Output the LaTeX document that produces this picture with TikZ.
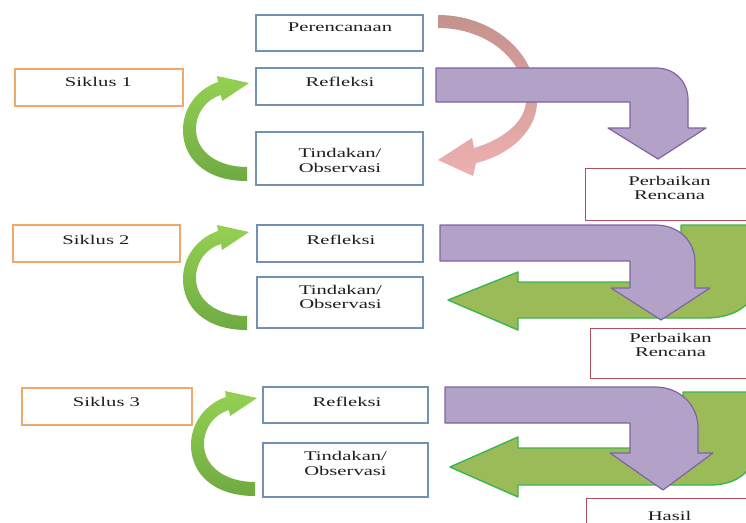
\documentclass[tikz,border=0pt]{standalone}
\usepackage{fontspec}
\setmainfont{Liberation Serif}
\usepackage{graphicx}
\definecolor{boxblue}{HTML}{7391B5}
\definecolor{boxorange}{HTML}{EFA96B}
\definecolor{boxred}{HTML}{B0505A}
\definecolor{purfill}{HTML}{B3A2C7}
\definecolor{purdraw}{HTML}{8064A2}
\definecolor{gfill}{HTML}{9BBB59}
\definecolor{gdraw}{HTML}{3CB550}
\definecolor{gtop}{HTML}{94D152}
\definecolor{gbot}{HTML}{6FAA42}
\definecolor{ptop}{HTML}{C4928C}
\definecolor{pbot}{HTML}{EDB0B0}
\definecolor{txtcol}{HTML}{1E1E1E}
\newcommand\sx[1]{\scalebox{1.55}[1]{#1}}
\begin{document}
\begin{tikzpicture}[x=1pt,y=-1pt,
  mainbox/.style={draw=boxblue,line width=1.1pt,rectangle,inner sep=0pt},
  sikbox/.style={draw=boxorange,line width=1.1pt,rectangle,inner sep=0pt},
  perbox/.style={draw=boxred,line width=0.9pt,rectangle,inner sep=0pt},
  txt/.style={font=\fontsize{13.3}{14.5}\selectfont,text=txtcol,inner sep=0pt,align=center},
  purarrow/.style={fill=purfill,draw=purdraw,line width=1.2pt,line join=round},
  garrow/.style={fill=gfill,draw=gdraw,line width=1.4pt,line join=round},
  gcurvestyle/.style={top color=gtop,bottom color=gbot,draw=none},
  pcurvestyle/.style={top color=ptop,bottom color=pbot,draw=none},
  gcurve/.pic={
    \path[gcurvestyle] (247,181) .. controls (205,181) and (182,158) .. (183,128)
      .. controls (184,105) and (200,88) .. (218,82) -- (217,76) -- (249,83)
      -- (222,101) -- (221,95) .. controls (207,99) and (196,112) .. (196,129)
      .. controls (196,152) and (218,167) .. (247,167) -- cycle;
  }]
\useasboundingbox (0,0) rectangle (746,522);
\clip (0,0) rectangle (746,522);
\fill[white] (0,0) rectangle (746,522);

% boxes
\node[sikbox,minimum width=168pt,minimum height=37pt] (s1) at (99,87.5) {};
\node[mainbox,minimum width=167pt,minimum height=36pt] (pr) at (339.5,33) {};
\node[mainbox,minimum width=167pt,minimum height=37pt] (r1) at (339.5,86.5) {};
\node[mainbox,minimum width=167pt,minimum height=53pt] (o1) at (339.5,158.5) {};
\node[perbox,minimum width=167pt,minimum height=52pt] (p1) at (668.5,194) {};
\node[sikbox,minimum width=167pt,minimum height=37pt] (s2) at (96.5,243.5) {};
\node[mainbox,minimum width=166pt,minimum height=37pt] (r2) at (340,243.5) {};
\node[mainbox,minimum width=166pt,minimum height=51pt] (o2) at (340,302.5) {};
\node[perbox,minimum width=162pt,minimum height=50pt] (p2) at (671,353) {};
\node[sikbox,minimum width=170pt,minimum height=37pt] (s3) at (107,406.5) {};
\node[mainbox,minimum width=165pt,minimum height=36pt] (r3) at (345.5,405) {};
\node[mainbox,minimum width=165pt,minimum height=54pt] (o3) at (345.5,470) {};
\node[perbox,minimum width=166pt,minimum height=52pt] (h) at (669,524) {};

% texts
\node[txt] (ts1) at (98.5,82) {\sx{Siklus 1}};
\node[txt] (tpr) at (340,27.5) {\sx{Perencanaan}};
\node[txt] (tr1) at (340,82) {\sx{Refleksi}};
\node[txt] (to1) at (340,160.5) {\sx{Tindakan/}\\\sx{Observasi}};
\node[txt] (tp1) at (669.5,188) {\sx{Perbaikan}\\\sx{Rencana}};
\node[txt] (ts2) at (96,240) {\sx{Siklus 2}};
\node[txt] (tr2) at (341,240) {\sx{Refleksi}};
\node[txt] (to2) at (340.5,297) {\sx{Tindakan/}\\\sx{Observasi}};
\node[txt] (tp2) at (670.5,345) {\sx{Perbaikan}\\\sx{Rencana}};
\node[txt] (ts3) at (106.5,402) {\sx{Siklus 3}};
\node[txt] (tr3) at (347,402) {\sx{Refleksi}};
\node[txt] (to3) at (345.5,463.5) {\sx{Tindakan/}\\\sx{Observasi}};
\node[txt] (th) at (669.5,516) {\sx{Hasil}};

% green curved arrows
\pic (gc1) at (0,0) {gcurve};
\pic (gc2) at (0,149) {gcurve};
\pic (gc3) at (8,315) {gcurve};

% pink curved arrow
\path[pcurvestyle] (438,15) .. controls (490,15) and (536,50) .. (537,100)
  .. controls (538,130) and (510,155) .. (476,163) -- (473,176) -- (438,160)
  -- (472,138) -- (474,148) .. controls (502,140) and (526,122) .. (526,100)
  .. controls (525,58) and (485,28) .. (438,28) -- cycle;

% green U arrows
\draw[garrow] (681,225) -- (755,225) -- (755,282) .. controls (755,305) and (735,318) .. (705,318)
  -- (518,318) -- (518,330) -- (448,300) -- (518,272) -- (518,282) -- (681,282) -- cycle;
\draw[garrow] (683,392) -- (755,392) -- (755,448) .. controls (755,470) and (738,485) .. (710,485)
  -- (518,485) -- (518,497) -- (450,467) -- (518,437) -- (518,448) -- (683,448) -- cycle;

% purple bent arrows
\draw[purarrow] (436,68) -- (656,68) .. controls (675,68) and (688,82) .. (688,100)
  -- (688,128) -- (706,128) -- (658,159) -- (608,128) -- (630,128) -- (630,102) -- (436,102) -- cycle;
\draw[purarrow] (440,225) -- (655,225) .. controls (678,225) and (695,240) .. (695,263)
  -- (695,288) -- (710,288) -- (661,320) -- (611,288) -- (630,288) -- (630,261) -- (440,261) -- cycle;
\draw[purarrow] (445,387) -- (655,387) .. controls (680,387) and (698,405) .. (698,428)
  -- (698,453) -- (713,453) -- (663,490) -- (610,453) -- (630,453) -- (630,423) -- (445,423) -- cycle;
\end{tikzpicture}
\end{document}
